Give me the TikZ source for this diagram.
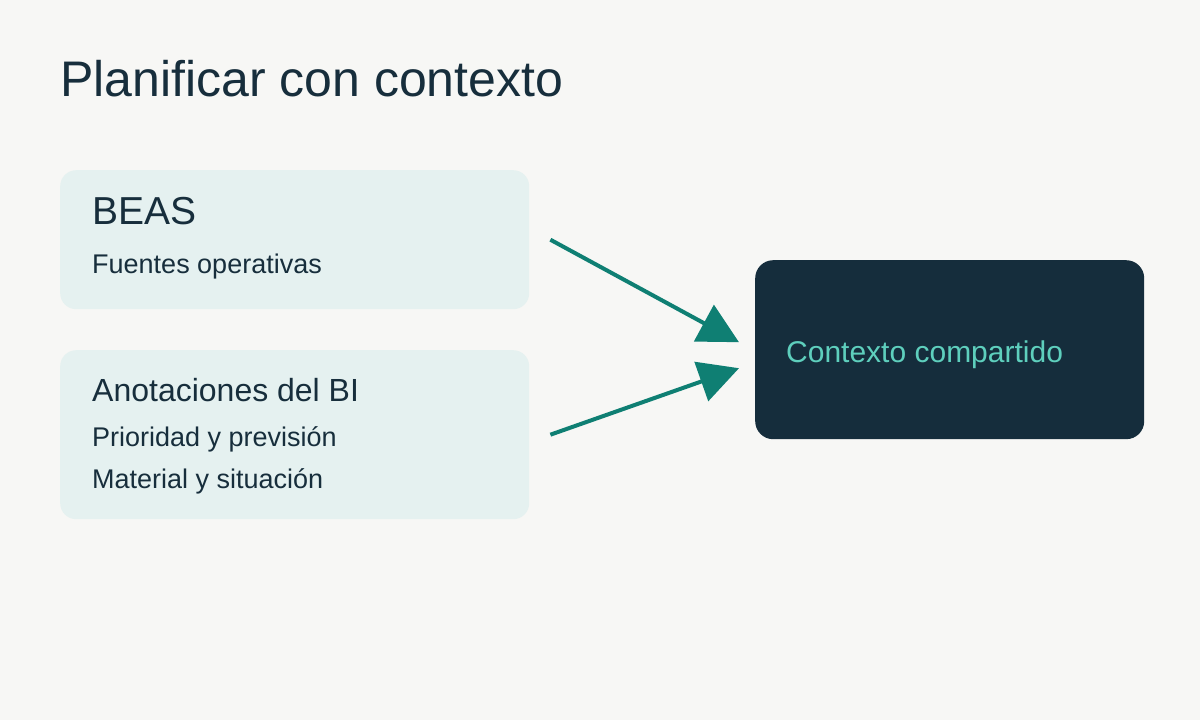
\documentclass[tikz,border=0pt]{standalone}
\usepackage{fontspec}
\setmainfont{Liberation Sans}
\usepackage{xcolor}
\usetikzlibrary{arrows.meta, positioning, calc}

\definecolor{pagebg}{HTML}{F7F7F5}
\definecolor{cardfill}{HTML}{E5F1F0}
\definecolor{inkdark}{HTML}{172E3C}
\definecolor{ctxfill}{HTML}{152D3C}
\definecolor{ctxtext}{HTML}{5ECFBD}
\definecolor{teal}{HTML}{0F7F73}

\begin{document}
\begin{tikzpicture}[
    x=1pt, y=-1pt,
    card/.style={rectangle, rounded corners=16pt, fill=cardfill, anchor=north west, inner sep=0pt, minimum width=469pt},
    ctxbox/.style={rectangle, rounded corners=18pt, fill=ctxfill, anchor=north west, inner sep=0pt, minimum width=389pt, minimum height=179pt},
    heading/.style={anchor=base west, inner sep=0pt, text=inkdark, font=\fontsize{32pt}{38pt}\selectfont},
    detail/.style={anchor=base west, inner sep=0pt, text=inkdark, font=\fontsize{27pt}{32pt}\selectfont},
    arrow/.style={-{Triangle[length=40pt, width=41pt]}, line width=4pt, draw=teal, fill=teal}
]
    % Page
    \fill[pagebg] (0,0) rectangle (1200,720);
    \useasboundingbox (0,0) rectangle (1200,720);

    % Title
    \node[anchor=base west, inner sep=0pt, text=inkdark, font=\fontsize{50pt}{60pt}\selectfont] (title) at (60,96) {Planificar con contexto};

    % Source cards
    \node[card, minimum height=139pt] (beas) at (60,170) {};
    \node[heading, font=\fontsize{39pt}{46pt}\selectfont] (beashead) at (92,224) {BEAS};
    \node[detail] (beasline) at (92,273) {Fuentes operativas};

    \node[card, minimum height=169pt] (notes) at (60,350) {};
    \node[heading] (noteshead) at (92,401) {Anotaciones del BI};
    \node[detail] (notesone) at (92,446) {Prioridad y previsión};
    \node[detail] (notestwo) at (92,488) {Material y situación};

    % Shared context
    \node[ctxbox] (ctx) at (755,260) {};
    \node[anchor=base west, inner sep=0pt, text=ctxtext, font=\fontsize{30pt}{36pt}\selectfont] (ctxlabel) at (786,362) {Contexto compartido};

    % Arrows
    \draw[arrow] ([xshift=21pt]beas.east) -- ([xshift=-16pt, yshift=7.5pt]ctx.west);
    \draw[arrow] ([xshift=21pt]notes.east) -- ([xshift=-16pt, yshift=-18.5pt]ctx.west);
\end{tikzpicture}
\end{document}
